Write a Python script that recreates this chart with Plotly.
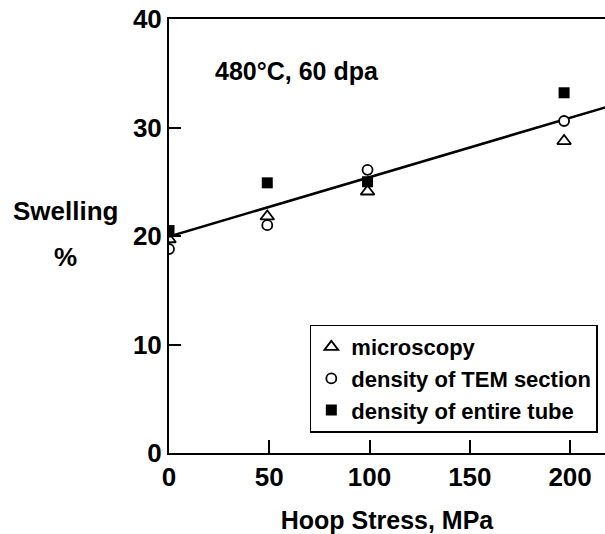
import plotly.graph_objects as go

# Data
stress = [0, 49, 99, 197]
microscopy = [19.7, 21.8, 24.1, 28.75]
tem_density = [18.8, 21.0, 26.1, 30.6]
tube_density = [20.5, 24.9, 25.0, 33.2]
fit_stress = [0, 222]
fit_swelling = [19.95, 32.1]

x_ticks = [0, 50, 100, 150, 200]
y_ticks = [0, 10, 20, 30, 40]

FONT = "Liberation Sans, Arial, sans-serif"

fig = go.Figure()
fig.add_trace(go.Scatter(x=fit_stress, y=fit_swelling, mode="lines",
                         line=dict(color="black", width=2.5), showlegend=False,
                         hoverinfo="skip"))
fig.add_trace(go.Scatter(x=stress, y=microscopy, mode="markers", name="microscopy",
                         marker=dict(symbol="triangle-up-open", size=12, color="black",
                                     line=dict(width=1.8, color="black"))))
fig.add_trace(go.Scatter(x=stress, y=tem_density, mode="markers", name="density of TEM section",
                         marker=dict(symbol="circle", size=10, color="white",
                                     line=dict(width=1.8, color="black"))))
fig.add_trace(go.Scatter(x=stress, y=tube_density, mode="markers", name="density of entire tube",
                         marker=dict(symbol="square", size=11, color="black",
                                     line=dict(width=0, color="black"))))

fig.update_layout(
    width=605, height=534,
    margin=dict(l=169, r=0, t=19, b=81),
    plot_bgcolor="white", paper_bgcolor="white",
    font=dict(family=FONT, color="black"),
    xaxis=dict(range=[0, 217.4], tickvals=x_ticks, ticks="inside", ticklen=13, tickwidth=1.5,
               tickcolor="black", showline=True, linecolor="black", linewidth=2, mirror=True,
               showgrid=False, zeroline=False,
               tickfont=dict(family=FONT, size=26, color="black", weight="bold"),
               title=dict(text="<b>Hoop Stress, MPa</b>", font=dict(family=FONT, size=25, color="black"),
                          standoff=22)),
    yaxis=dict(range=[0, 40], tickvals=y_ticks, ticks="inside", ticklen=12, tickwidth=1.5,
               tickcolor="black", showline=True, linecolor="black", linewidth=2,
               showgrid=False, zeroline=False,
               tickfont=dict(family=FONT, size=26, color="black", weight="bold")),
    legend=dict(x=0.323, y=0.296, xanchor="left", yanchor="top",
                bordercolor="black", borderwidth=1.5, bgcolor="rgba(0,0,0,0)",
                font=dict(family=FONT, size=22, color="black", weight="bold"),
                tracegroupgap=0, itemwidth=30),
    showlegend=True,
)

fig.add_annotation(x=0.101, y=0.881, xref="paper", yref="paper", xanchor="left", yanchor="middle",
                   text="<b>480°C, 60 dpa</b>", showarrow=False,
                   font=dict(family=FONT, size=25, color="black"))
fig.add_annotation(x=65, y=211, xref="paper", yref="paper", showarrow=False,
                   text="<b>Swelling</b>", font=dict(family=FONT, size=26, color="black"))
fig.add_annotation(x=65, y=257, xref="paper", yref="paper", showarrow=False,
                   text="<b>%</b>", font=dict(family=FONT, size=26, color="black"))

# convert pixel-positioned annotations (Swelling, %) to paper coordinates
plot_left, plot_width, plot_top, plot_height = 169, 436, 19, 434
for ann in fig.layout.annotations[1:]:
    px, py = ann.x, ann.y
    ann.x = (px - plot_left) / plot_width
    ann.y = 1 - (py - plot_top) / plot_height
    ann.xanchor = "center"
    ann.yanchor = "middle"

fig.write_html("out.html", post_script="document.body.style.margin='0';",
               config={"displayModeBar": False})
